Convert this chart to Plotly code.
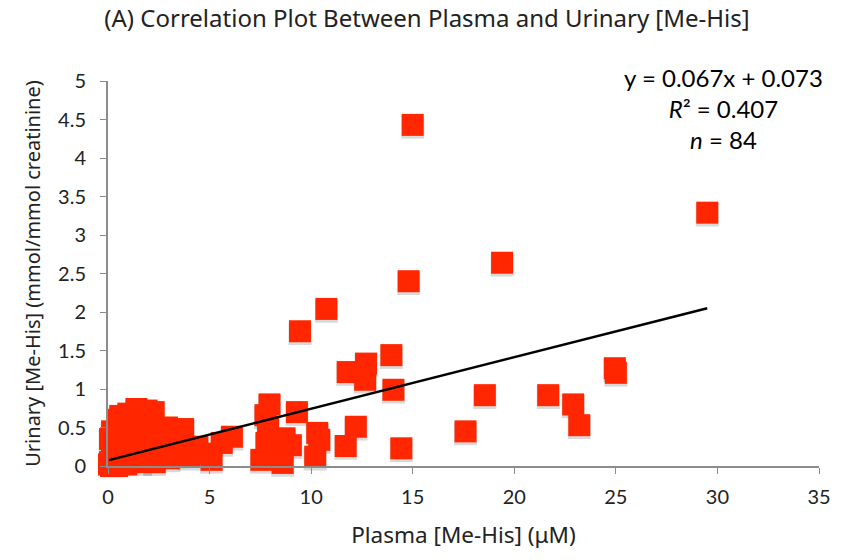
import plotly.graph_objects as go

# Plasma [Me-His] (uM) and Urinary [Me-His] (mmol/mmol creatinine)
plasma = [
    15.0, 29.5, 19.4, 14.8, 10.75, 9.45, 13.95, 12.7, 11.8, 12.66,
    14.05, 18.55, 21.67, 22.9, 23.2, 24.95, 25.0, 17.6, 14.44, 12.2,
    11.7, 10.3, 10.2, 9.3, 9.0, 8.69, 8.6, 7.95, 7.75, 7.88,
    7.8, 7.55, 8.3, 6.1, 5.6, 5.1, 4.65, 10.4,
    0.05, 0.1, 0.15, 0.2, 0.25, 0.3, 0.35, 0.4, 0.5, 0.55,
    0.6, 0.7, 0.8, 0.85, 0.9, 1.0, 1.1, 1.2, 1.3, 1.4,
    1.5, 1.6, 1.7, 1.8, 1.9, 2.0, 2.1, 2.25, 2.3, 2.4,
    2.6, 2.8, 2.9, 3.0, 3.2, 3.4, 3.7, 3.8, 4.0, 4.4,
    0.1, 0.2, 0.6, 1.0, 1.9, 0.45,
]
urinary = [
    4.43, 3.29, 2.64, 2.40, 2.04, 1.75, 1.44, 1.33, 1.22, 1.12,
    0.99, 0.92, 0.92, 0.80, 0.53, 1.27, 1.21, 0.45, 0.23, 0.51,
    0.26, 0.43, 0.12, 0.70, 0.27, 0.36, 0.04, 0.80, 0.66, 0.50,
    0.30, 0.08, 0.15, 0.38, 0.30, 0.08, 0.16, 0.34,
    0.02, 0.05, 0.0, 0.10, 0.03, 0.15, 0.08, 0.22, 0.60, 0.30,
    0.05, 0.12, 0.40, 0.20, 0.02, 0.30, 0.50, 0.10, 0.25, 0.74,
    0.45, 0.05, 0.60, 0.35, 0.15, 0.50, 0.25, 0.70, 0.05, 0.40,
    0.20, 0.30, 0.50, 0.10, 0.22, 0.15, 0.48, 0.25, 0.12, 0.25,
    0.35, 0.45, 0.65, 0.68, 0.72, 0.0,
]

# trendline shown on the chart
slope = 0.067
intercept = 0.073
r_squared = 0.407

x_ticks = [0, 5, 10, 15, 20, 25, 30, 35]
y_ticks = [0, 0.5, 1, 1.5, 2, 2.5, 3, 3.5, 4, 4.5, 5]

RED = "rgb(255,38,0)"
AXIS = "#8c8c8c"
FONT = "Lato"
TFONT = "Noto Sans"
TXT = "#222"

fig = go.Figure()

# soft shadow under each marker: main y axis (drawn first, underneath), nudged ~2 px down
fig.add_trace(go.Scatter(
    x=plasma, y=urinary, mode="markers", xaxis="x", yaxis="y",
    marker=dict(symbol="square", size=23, color="rgba(0,0,0,0.15)", line=dict(width=0)),
    cliponaxis=False, hoverinfo="skip", showlegend=False,
))
# visible markers and trendline on the overlay axis (drawn on top)
fig.add_trace(go.Scatter(
    x=plasma, y=urinary, mode="markers", xaxis="x", yaxis="y2",
    marker=dict(symbol="square", size=22, color=RED, line=dict(width=0)),
    cliponaxis=False, showlegend=False,
))
x0, x1 = min(plasma), max(plasma)
fig.add_trace(go.Scatter(
    x=[x0, x1], y=[slope * x0 + intercept, slope * x1 + intercept],
    mode="lines", xaxis="x", yaxis="y2", line=dict(color="black", width=2.5),
    cliponaxis=False, showlegend=False,
))

tickfont = dict(family=FONT, size=20, color=TXT)
fig.update_layout(
    width=843, height=560,
    margin=dict(l=108, r=16, t=81, b=94),
    paper_bgcolor="white", plot_bgcolor="white",
    title=dict(
        text="(A) Correlation Plot Between Plasma and Urinary [Me-His]",
        x=427 / 843, xanchor="center", y=1 - 19 / 560, yanchor="middle",
        font=dict(family=TFONT, size=24, color=TXT),
    ),
    xaxis=dict(
        range=[0, 35], tickvals=x_ticks, ticks="outside", ticklen=6, tickcolor=AXIS,
        showline=True, linecolor=AXIS, linewidth=2, showgrid=False, zeroline=False,
        tickfont=tickfont, ticklabelstandoff=6,
        title=dict(text="Plasma [Me-His] (μM)", font=dict(family=TFONT, size=22.5, color=TXT), standoff=20),
    ),
    yaxis=dict(
        range=[0.03, 5.03], showticklabels=False, ticks="", showline=False,
        showgrid=False, zeroline=False,
    ),
    yaxis2=dict(
        overlaying="y", side="left", anchor="x",
        range=[0, 5], tickvals=y_ticks, ticks="outside", ticklen=6, tickcolor=AXIS,
        showline=True, linecolor=AXIS, linewidth=2, showgrid=False, zeroline=False,
        tickfont=tickfont, ticklabelstandoff=10,
        title=dict(text="Urinary [Me-His] (mmol/mmol creatinine)", font=dict(family=TFONT, size=20, color=TXT), standoff=12),
    ),
    annotations=[
        dict(
            text=f"y = {slope}x + {intercept}<br><i>R</i>² = {r_squared}<br><i>n</i> = {len(plasma)}",
            xref="paper", yref="paper", x=(730 - 108) / (827 - 108), y=1 + 20 / 385,
            xanchor="center", yanchor="top", showarrow=False, align="center",
            font=dict(family=FONT, size=24, color="black"),
        )
    ],
)

fig.write_html("out.html")
